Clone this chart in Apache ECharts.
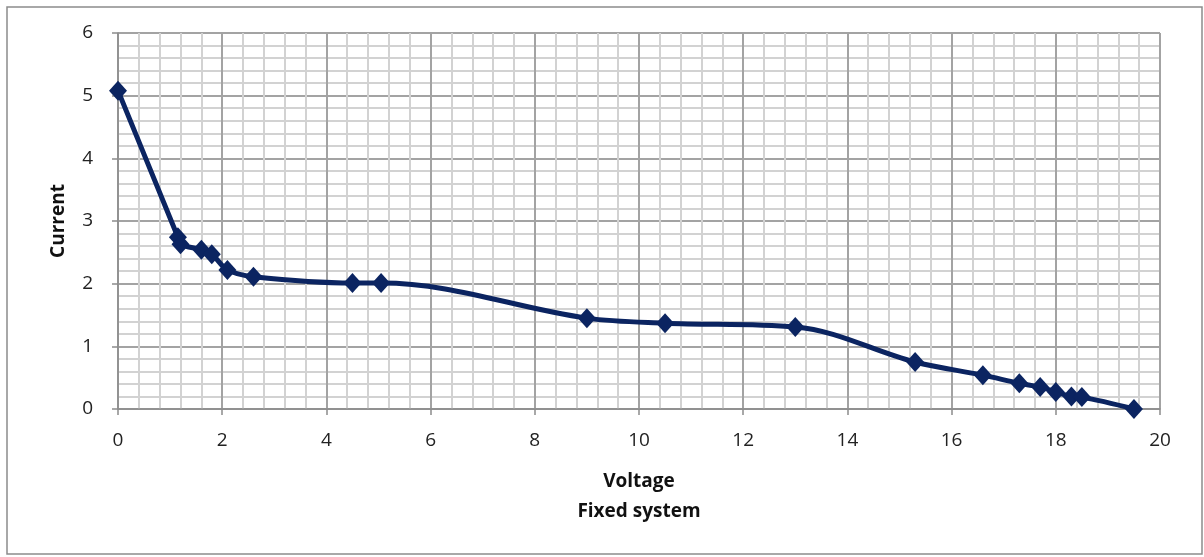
<!DOCTYPE html>
<html>
<head>
<meta charset="utf-8">
<script src="https://cdn.jsdelivr.net/npm/echarts@6/dist/echarts.min.js"></script>
<style>
html,body{margin:0;padding:0;background:#fff;}
#c{width:1204px;height:557px;}
</style>
</head>
<body>
<div id="c"></div>
<script>
var voltage = [0, 1.15, 1.2, 1.6, 1.8, 2.1, 2.6, 4.5, 5.05, 9.0, 10.5, 13.0, 15.3, 16.6, 17.3, 17.7, 18.0, 18.3, 18.5, 19.5];
var current = [5.08, 2.74, 2.63, 2.54, 2.47, 2.22, 2.11, 2.01, 2.01, 1.45, 1.37, 1.31, 0.75, 0.54, 0.41, 0.35, 0.27, 0.20, 0.19, 0.0];
var xTicks = [0, 2, 4, 6, 8, 10, 12, 14, 16, 18, 20];
var yTicks = [0, 1, 2, 3, 4, 5, 6];

var points = voltage.map(function (v, i) { return [v, current[i]]; });
var font = '"Open Sans", sans-serif';

var chart = echarts.init(document.getElementById('c'));
chart.setOption({
  animation: false,
  backgroundColor: '#fff',
  grid: { left: 118, top: 33, right: 44, bottom: 148 },
  graphic: [{
    type: 'rect',
    shape: { x: 7, y: 7, width: 1195, height: 547 },
    style: { fill: 'none', stroke: '#8c8c8c', lineWidth: 1.5 },
    silent: true
  }],
  xAxis: {
    type: 'value',
    min: xTicks[0], max: xTicks[xTicks.length - 1], interval: 2,
    name: 'Voltage\nFixed system',
    nameLocation: 'middle',
    nameGap: 58,
    nameTextStyle: { fontFamily: font, fontWeight: 'bold', fontSize: 19, color: '#111', lineHeight: 30 },
    axisLine: { show: true, lineStyle: { color: '#8c8c8c', width: 1.5 } },
    axisTick: { show: true, length: 6, lineStyle: { color: '#8c8c8c', width: 1.5 } },
    axisLabel: { margin: 22, fontFamily: font, fontSize: 19, color: '#222' },
    splitLine: { show: true, lineStyle: { color: '#a3a3a3', width: 2 } },
    minorTick: { show: false, splitNumber: 5 },
    minorSplitLine: { show: true, lineStyle: { color: '#d2d2d2', width: 2 } }
  },
  yAxis: {
    type: 'value',
    min: yTicks[0], max: yTicks[yTicks.length - 1], interval: 1,
    name: 'Current',
    nameLocation: 'middle',
    nameGap: 50,
    nameTextStyle: { fontFamily: font, fontWeight: 'bold', fontSize: 19, color: '#111' },
    axisLine: { show: true, lineStyle: { color: '#8c8c8c', width: 1.5 } },
    axisTick: { show: true, length: 6, lineStyle: { color: '#8c8c8c', width: 1.5 } },
    axisLabel: { margin: 25, fontFamily: font, fontSize: 19, color: '#222' },
    splitLine: { show: true, lineStyle: { color: '#a3a3a3', width: 2 } },
    minorTick: { show: false, splitNumber: 5 },
    minorSplitLine: { show: true, lineStyle: { color: '#d2d2d2', width: 2 } }
  },
  series: [{
    type: 'line',
    data: points,
    smooth: 0.35,
    symbol: 'diamond',
    symbolSize: [18, 20],
    lineStyle: { color: '#0b2461', width: 5 },
    itemStyle: { color: '#0b2461' },
    z: 5
  }]
});
</script>
</body>
</html>
